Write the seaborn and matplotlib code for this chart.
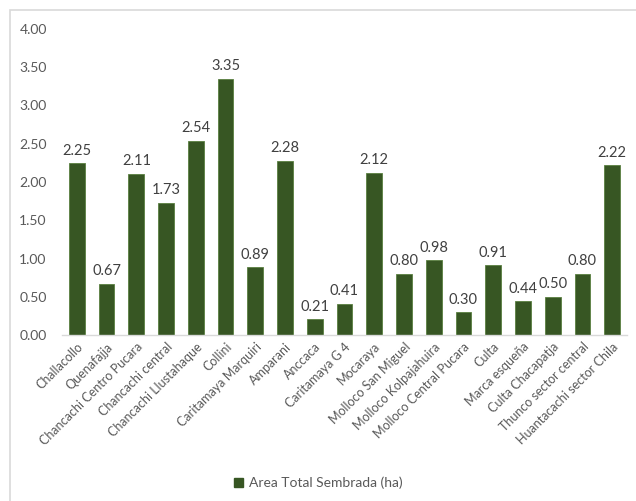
import matplotlib
matplotlib.use("Agg")
import matplotlib.pyplot as plt
import seaborn as sns
import pandas as pd
from matplotlib.patches import Rectangle, Patch

categories = ["Challacollo", "Quenafajja", "Chancachi Centro Pucara", "Chancachi central",
              "Chancachi Llustahaque", "Collini", "Caritamaya Marquiri", "Amparani",
              "Anccaca", "Caritamaya G 4", "Mocaraya", "Molloco San Miguel",
              "Molloco Kolpajahuira", "Molloco Central Pucara", "Culta", "Marca esqueña",
              "Culta Chacapatja", "Thunco sector central", "Huantacachi sector Chila"]
values = [2.25, 0.67, 2.11, 1.73, 2.54, 3.35, 0.89, 2.28, 0.21, 0.41, 2.12, 0.80,
          0.98, 0.30, 0.91, 0.44, 0.50, 0.80, 2.22]
series_name = "Area Total Sembrada (ha)"
yticks = [0, 0.5, 1.0, 1.5, 2.0, 2.5, 3.0, 3.5, 4.0]

df = pd.DataFrame({"cat": categories, "val": values})

sns.set_theme(style="white")
plt.rcParams['font.family'] = ['Lato', 'DejaVu Sans']

W, H = 636, 501
fig = plt.figure(figsize=(W/100, H/100), dpi=100)
n = len(categories)
left_px, right_px = 62, 627
ax = fig.add_axes([left_px/W, 1-335/H, (right_px-left_px)/W, (335-29)/H])

green = "#375623"
sns.barplot(data=df, x="cat", y="val", color=green, width=0.53, ax=ax,
            edgecolor="#5A8040", linewidth=0.6, saturation=1)

ax.set_ylim(0, 4.0)
ax.set_xlim(-0.5, n-0.5)
ax.set_yticks(yticks)
ax.set_yticklabels([f"{v:.2f}" for v in yticks], color="#595959", fontsize=10)
ax.set_xticks(range(n))
ax.set_xticklabels(categories, rotation=45, ha="right", rotation_mode="anchor",
                   color="#595959", fontsize=9)
ax.tick_params(axis="both", length=0, pad=4)
ax.tick_params(axis="y", pad=11)
ax.set_xlabel("")
ax.set_ylabel("")
for s in ["top", "right", "left"]:
    ax.spines[s].set_visible(False)
ax.spines["bottom"].set_color("#D9D9D9")
ax.spines["bottom"].set_linewidth(1)
ax.grid(False)

for i, v in enumerate(values):
    ax.text(i, v + 0.07, f"{v:.2f}", ha="center", va="bottom", fontsize=10.5, color="#404040")

fig.patches.append(Rectangle((10/W, -0.01), 1.0, 1-10/H + 0.01, transform=fig.transFigure,
                             fill=False, edgecolor="#D9D9D9", linewidth=1.2))

handles = [Patch(facecolor=green, edgecolor=green, label=series_name)]
fig.legend(handles=handles, loc="center", bbox_to_anchor=(318/W, 1-483/H), frameon=False,
           fontsize=10, handlelength=0.7, handleheight=0.7, handletextpad=0.4,
           labelcolor="#595959")

fig.savefig("out.png", dpi=100)
